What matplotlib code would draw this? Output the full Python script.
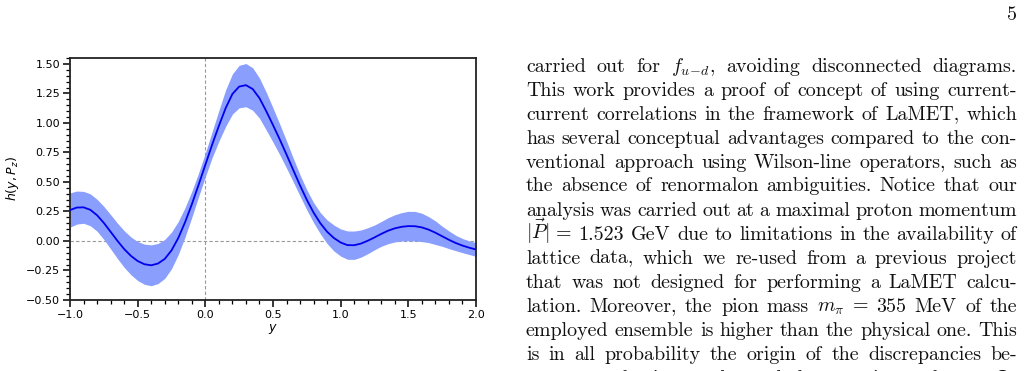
import matplotlib
matplotlib.use("Agg")
import matplotlib.pyplot as plt
import numpy as np

# ---------------- data ----------------
y_vals = [-1.00, -0.95, -0.90, -0.85, -0.80, -0.75, -0.70, -0.65, -0.60, -0.55,
          -0.50, -0.45, -0.40, -0.35, -0.30, -0.25, -0.20, -0.15, -0.10, -0.05,
          0.00, 0.05, 0.10, 0.15, 0.20, 0.25, 0.30, 0.35, 0.40, 0.45,
          0.50, 0.55, 0.60, 0.65, 0.70, 0.75, 0.80, 0.85, 0.90, 0.95,
          1.00, 1.05, 1.10, 1.15, 1.20, 1.25, 1.30, 1.35, 1.40, 1.45,
          1.50, 1.55, 1.60, 1.65, 1.70, 1.75, 1.80, 1.85, 1.90, 1.95, 2.00]

h_center = [0.262, 0.283, 0.285, 0.264, 0.218, 0.153, 0.078, 0.002, -0.068, -0.126,
            -0.170, -0.197, -0.206, -0.191, -0.152, -0.080, 0.025, 0.158, 0.310, 0.475,
            0.645, 0.815, 0.975, 1.125, 1.245, 1.308, 1.320, 1.287, 1.210, 1.100,
            0.982, 0.860, 0.732, 0.600, 0.470, 0.348, 0.240, 0.150, 0.078, 0.025,
            -0.013, -0.035, -0.036, -0.022, 0.002, 0.030, 0.060, 0.087, 0.107, 0.120,
            0.126, 0.125, 0.115, 0.096, 0.070, 0.040, 0.010, -0.017, -0.039, -0.057, -0.072]

h_err = [0.145, 0.140, 0.135, 0.135, 0.135, 0.140, 0.145, 0.150, 0.155, 0.160,
         0.165, 0.170, 0.173, 0.170, 0.165, 0.155, 0.140, 0.125, 0.110, 0.100,
         0.100, 0.110, 0.130, 0.155, 0.170, 0.180, 0.183, 0.180, 0.170, 0.160,
         0.145, 0.130, 0.115, 0.100, 0.090, 0.085, 0.085, 0.090, 0.100, 0.110,
         0.115, 0.120, 0.120, 0.115, 0.110, 0.105, 0.105, 0.110, 0.115, 0.120,
         0.125, 0.125, 0.120, 0.110, 0.100, 0.085, 0.075, 0.065, 0.060, 0.058, 0.058]

x_ticks = [-1.0, -0.5, 0.0, 0.5, 1.0, 1.5, 2.0]
y_ticks = [-0.50, -0.25, 0.00, 0.25, 0.50, 0.75, 1.00, 1.25, 1.50]

body_lines = [
    r"carried out for $f_{u\!-\!d}$, avoiding disconnected diagrams.",
    r"This work provides a proof of concept of using current-",
    r"current correlations in the framework of LaMET, which",
    r"has several conceptual advantages compared to the con-",
    r"ventional approach using Wilson-line operators, such as",
    r"the absence of renormalon ambiguities. Notice that our",
    r"analysis was carried out at a maximal proton momentum",
    r"$|\vec{P}|$ = 1.523 GeV due to limitations in the availability of",
    r"lattice data, which we re-used from a previous project",
    r"that was not designed for performing a LaMET calcu-",
    r"lation. Moreover, the pion mass $m_\pi$ = 355 MeV of the",
    r"employed ensemble is higher than the physical one. This",
    r"is in all probability the origin of the discrepancies be-",
    r"tween our lattice results and the experimental ones. In",
]
page_number = "5"

# ---------------- figure ----------------
W, H = 1024, 371
fig = plt.figure(figsize=(W / 100, H / 100), dpi=100)
fig.patch.set_facecolor("white")

def fx(px):
    return px / W

def fy(py):
    return 1 - py / H

ax = fig.add_axes([fx(70), fy(300), fx(476) - fx(70), fy(58) - fy(300)])

yv = np.array(y_vals)
hc = np.array(h_center)
he = np.array(h_err)
ax.fill_between(yv, hc - he, hc + he, color="#8a9efd", linewidth=0, zorder=1)
ax.plot(yv, hc, color="#0000ee", lw=1.3, zorder=3)
ax.axhline(0, color="#999999", lw=0.8, ls=(0, (3, 2)), zorder=0.5)
ax.axvline(0, color="#999999", lw=0.8, ls=(0, (3, 2)), zorder=0.5)

ax.set_xlim(-1.0, 2.0)
ax.set_ylim(-0.5, 1.55)
ax.set_xticks(x_ticks)
ax.set_yticks(y_ticks)
ax.set_xticklabels([f"{v:.1f}".replace("-", "\u2212") for v in x_ticks])
ax.set_yticklabels([f"{v:.2f}".replace("-", "\u2212") for v in y_ticks])
ax.xaxis.set_minor_locator(matplotlib.ticker.MultipleLocator(0.1))
ax.yaxis.set_minor_locator(matplotlib.ticker.MultipleLocator(0.05))
ax.tick_params(which="major", direction="out", length=5, width=1.1, labelsize=8, pad=2)
ax.tick_params(which="minor", direction="out", length=3, width=0.9)
for s in ax.spines.values():
    s.set_linewidth(1.3)
    s.set_color("#222222")
ax.set_xlabel(r"$y$", fontsize=9, labelpad=2)
ax.set_ylabel(r"$h(y, P_z)$", fontsize=9, labelpad=4)

# ---------------- page text ----------------
renderer = fig.canvas.get_renderer()
left_px, right_px = 526, 1017
base0, skip = 71.5, 24.0
fs = 14.4
for i, line in enumerate(body_lines):
    words = line.split(" ")
    texts = []
    for w in words:
        t = fig.text(0, 0, w, fontsize=fs, family="cmr10", math_fontfamily="cm",
                     ha="left", va="baseline", color="#111111")
        texts.append(t)
    widths = [t.get_window_extent(renderer).width for t in texts]
    gap = (right_px - left_px - sum(widths)) / max(len(words) - 1, 1)
    xcur = left_px
    yb = base0 + i * skip
    for t, wdt in zip(texts, widths):
        t.set_position((fx(xcur), fy(yb)))
        xcur += wdt + gap

fig.text(fx(1017), fy(20), page_number, fontsize=fs, family="cmr10",
         ha="right", va="baseline", color="#111111")

fig.savefig("out.png", dpi=100, facecolor="white")
